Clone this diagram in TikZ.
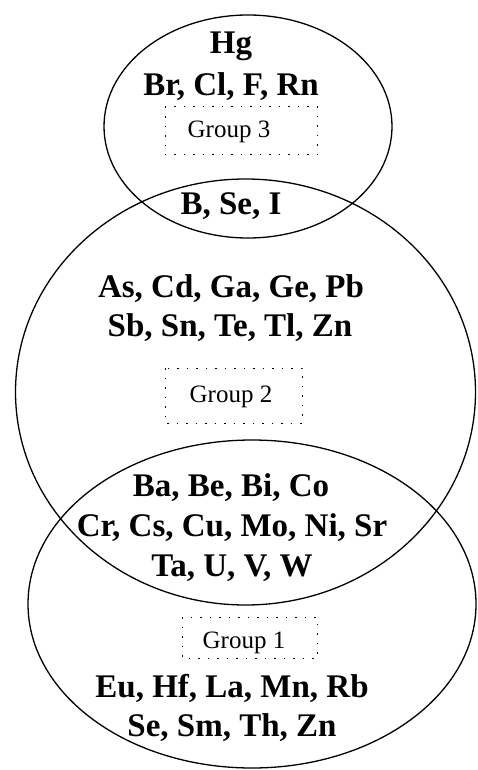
\documentclass[tikz,border=0pt]{standalone}
\usepackage{fontspec}
\setmainfont{Liberation Serif}
\begin{document}
\begin{tikzpicture}[x=1pt,y=-1pt,
  el/.style={line width=1.3pt},
  elem/.style={font=\fontsize{33}{38}\selectfont\bfseries, anchor=base, inner sep=0pt},
  grp/.style={font=\fontsize{25}{28}\selectfont, anchor=base, inner sep=0pt},
  dotbox/.style={line width=1pt, dash pattern=on 1.5pt off 8pt}]
\useasboundingbox (0,0) rectangle (477,770);
\fill[white] (0,0) rectangle (477,770);
% ellipses
\draw[el] (248,126.5) ellipse [x radius=144, y radius=111.5];
\draw[el] (245.5,392) ellipse [x radius=230, y radius=213];
\draw[el] (252,604) ellipse [x radius=224, y radius=164];
% group 3
\node[elem] (hg) at (231,54) {Hg};
\node[elem] (br) at (231,96) {Br, Cl, F, Rn};
\draw[dotbox] (165,107) rectangle (317,155);
\node[grp] (g3) at (229,138) {Group 3};
% 3 and 2
\node[elem] (bse) at (231,214) {B, Se, I};
% group 2
\node[elem] (as) at (231,297) {As, Cd, Ga, Ge, Pb};
\node[elem] (sb) at (230,336) {Sb, Sn, Te, Tl, Zn};
\draw[dotbox] (165,368) rectangle (302,423);
\node[grp] (g2) at (231,402) {Group 2};
% 2 and 1
\node[elem] (ba) at (231,496) {Ba, Be, Bi, Co};
\node[elem] (cr) at (232,536) {Cr, Cs, Cu, Mo, Ni, Sr};
\node[elem] (ta) at (232,576) {Ta, U, V, W};
% group 1
\draw[dotbox] (182,617) rectangle (317,658);
\node[grp] (g1) at (244,648) {Group 1};
\node[elem] (eu) at (232,697) {Eu, Hf, La, Mn, Rb};
\node[elem] (se) at (232,736) {Se, Sm, Th, Zn};
\end{tikzpicture}
\end{document}
